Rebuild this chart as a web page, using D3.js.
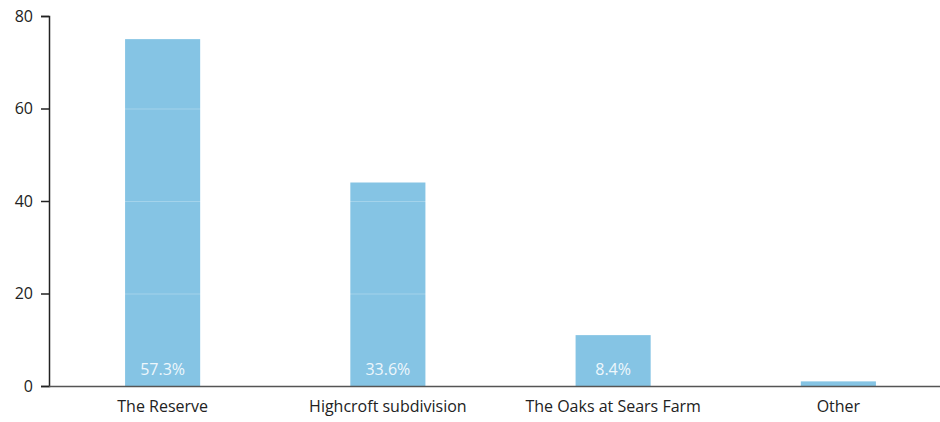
<!DOCTYPE html>
<html><head><meta charset="utf-8">
<script src="https://cdn.jsdelivr.net/npm/d3@7"></script>
<style>body{margin:0;background:#fff;font-family:"Open Sans",sans-serif;}</style>
</head><body><svg id="c" width="940" height="422"></svg>
<script>
const categories = ["The Reserve","Highcroft subdivision","The Oaks at Sears Farm","Other"];
const values = [75, 44, 11, 1];
const pctLabels = ["57.3%","33.6%","8.4%",""];
const yTicks = [0,20,40,60,80];

(function(){
const svg = d3.select("#c");
const mLeft = 49, mRight = 951, mTop = 16, mBottom = 386;
const x = d3.scaleBand().domain(categories).range([mLeft+1, mRight]).paddingInner(2/3).paddingOuter(1/3);
const y = d3.scaleLinear().domain([0,80]).range([mBottom, mTop]);

svg.selectAll("rect.bar").data(categories).enter().append("rect")
  .attr("x", d=>x(d)).attr("width", x.bandwidth())
  .attr("y", (d,i)=>y(values[i])).attr("height",(d,i)=>y(0)-y(values[i]))
  .attr("fill","#85c4e4");

svg.selectAll("line.grid").data(yTicks.filter(t=>t>0 && t<80)).enter().append("line")
  .attr("x1",mLeft).attr("x2",940).attr("y1",d=>y(d)+0.5).attr("y2",d=>y(d)+0.5)
  .attr("stroke","rgba(255,255,255,0.25)").attr("stroke-width",1);

svg.selectAll("text.pct").data(categories).enter().append("text")
  .attr("x", d=>x(d)+x.bandwidth()/2).attr("y", y(0)-11)
  .attr("text-anchor","middle").attr("fill","#eef7fc")
  .style("font-size","16px").text((d,i)=>pctLabels[i]);

const yAxis = svg.append("g").attr("transform",`translate(${mLeft},0)`)
  .call(d3.axisLeft(y).tickValues(yTicks).tickSize(8).tickPadding(8));
yAxis.selectAll("text").style("font-size","16px").style("font-family","'Open Sans',sans-serif").attr("fill","#222");
yAxis.selectAll("line,path").attr("stroke","#222").attr("stroke-width",1.5);

const xAxis = svg.append("g").attr("transform",`translate(0,${mBottom})`)
  .call(d3.axisBottom(x).tickSize(0).tickPadding(15));
xAxis.select("path").attr("d",`M${mLeft},0.5H940`).attr("stroke","#555").attr("stroke-width",1.5);
xAxis.selectAll("text").style("font-size","16px").style("font-family","'Open Sans',sans-serif").attr("fill","#222");
})();
</script></body></html>
